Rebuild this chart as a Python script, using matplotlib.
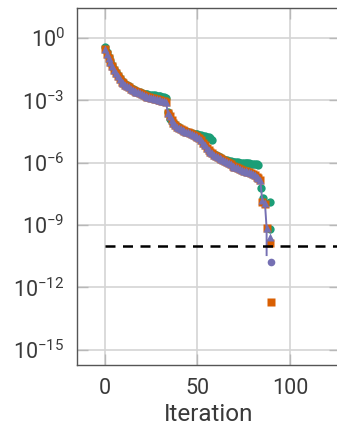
import numpy as np
import matplotlib
matplotlib.use("Agg")
import matplotlib.pyplot as plt

plt.rcParams["font.family"] = ["Roboto", "DejaVu Sans"]

# -----------------------------
# Data (log10 of the residual)
# -----------------------------
green_log = [-0.43, -0.7, -0.9, -1.1, -1.3, -1.5, -1.65, -1.8, -1.95, -2.05,
             -2.13, -2.2, -2.27, -2.33, -2.39, -2.45, -2.5, -2.54, -2.58, -2.62,
             -2.65, -2.68, -2.7, -2.72, -2.74, -2.75, -2.76, -2.77, -2.78, -2.79,
             -2.8, -2.82, -2.84, -2.9, -3.55, -3.9, -4.0, -4.08, -4.15, -4.22,
             -4.3, -4.36, -4.42, -4.47, -4.5, -4.53, -4.56, -4.58, -4.6, -4.62,
             -4.64, -4.66, -4.68, -4.7, -4.72, -4.75, -4.78, -4.82, -4.9, -5.58,
             -5.64, -5.7, -5.74, -5.78, -5.82, -5.86, -5.89, -5.92, -5.94, -5.96,
             -5.97, -5.98, -5.99, -6.0, -6.0, -6.01, -6.02, -6.03, -6.04, -6.05,
             -6.06, -6.07, -6.08, -6.1]
green_tail_x = [84.5, 85.6, 89, 89]
green_tail_log = [-7.2, -7.7, -7.88, -9.2]

purple_log = [-0.55, -0.75, -0.95, -1.15, -1.35, -1.55, -1.7, -1.85, -2.0, -2.1,
              -2.18, -2.25, -2.32, -2.38, -2.44, -2.5, -2.54, -2.58, -2.62, -2.66,
              -2.7, -2.74, -2.78, -2.82, -2.85, -2.88, -2.9, -2.92, -2.95, -2.97,
              -3.0, -3.02, -3.05, -3.1, -3.6, -3.75, -3.95, -4.1, -4.2, -4.27,
              -4.33, -4.38, -4.43, -4.47, -4.51, -4.55, -4.58, -4.62, -4.66, -4.7,
              -4.75, -4.82, -4.92, -5.05, -5.17, -5.28, -5.38, -5.47, -5.55, -5.62,
              -5.68, -5.74, -5.79, -5.84, -5.89, -5.94, -5.99, -6.04, -6.09, -6.14,
              -6.19, -6.23, -6.27, -6.31, -6.35, -6.38, -6.41, -6.44, -6.47, -6.5,
              -6.55, -6.6, -6.67, -6.75, -6.85]
purple_tail_x = [85, 86.5, 87.4, 87.4]
purple_tail_log = [-7.8, -7.95, -9.15, -10.45]
purple_end_tri_x, purple_end_tri_log = [89], [-9.57]
purple_end_dot_x, purple_end_dot_log = [90], [-10.77]

orange_log = purple_log  # sits right under the purple markers
orange_tail_x = [84.7, 86.5, 87.4, 89, 90]
orange_tail_log = [-7.88, -8.0, -9.16, -9.88, -12.73]

tolerance = 1e-10

c_green = "#1b9e77"
c_orange = "#d95f02"
c_purple = "#7570b3"

# -----------------------------
# Plot
# -----------------------------
fig = plt.figure(figsize=(3.37, 4.33), dpi=100)
ax = fig.add_axes([0.2285, 0.157, 0.78, 0.8245])

ms = 6.0

gx = list(range(len(green_log))) + green_tail_x
gy = 10.0 ** np.array(green_log + green_tail_log)
ax.plot(gx, gy, "o", color=c_green, ms=ms, mec="none", zorder=3)

ox = list(range(len(orange_log))) + orange_tail_x
oy = 10.0 ** np.array(orange_log + orange_tail_log)
ax.plot(ox, oy, "s", color=c_orange, ms=ms - 0.6, mec="none", zorder=4)

px = list(range(len(purple_log))) + purple_tail_x
py = 10.0 ** np.array(purple_log + purple_tail_log)
ax.plot(px, py, "-", color=c_purple, lw=1.4, marker="^", ms=ms, mec="none",
        markevery=list(range(len(px) - 1)), zorder=5)
ax.plot(purple_end_tri_x, 10.0 ** np.array(purple_end_tri_log), "^",
        color=c_purple, ms=ms, mec="none", zorder=5)
ax.plot(purple_end_dot_x, 10.0 ** np.array(purple_end_dot_log), "o",
        color=c_purple, ms=ms - 0.5, mec="none", zorder=5)

ax.hlines(tolerance, 0, 130, colors="black", linestyles=(0, (4, 3)),
          lw=1.8, zorder=6)

ax.set_yscale("log")
ax.set_xlim(-15.1, 127)
ax.set_ylim(10 ** -15.74, 10 ** 1.44)
ax.set_xticks([0, 50, 100])
ax.set_yticks([10.0 ** k for k in [0, -3, -6, -9, -12, -15]])
ax.yaxis.set_minor_locator(matplotlib.ticker.NullLocator())

ax.grid(True, color="#d4d4d4", lw=1.2)
ax.set_axisbelow(True)
ax.tick_params(direction="in", length=8, width=1, color="#b8b8b8",
               top=True, right=True, labelsize=15.5, labelcolor="#3a3a3a", pad=9)
for s in ax.spines.values():
    s.set_color("#555555")
    s.set_linewidth(1.0)

ax.set_xlabel("Iteration", fontsize=17.5, color="#3a3a3a", labelpad=3)

fig.savefig("out.png", dpi=100)
